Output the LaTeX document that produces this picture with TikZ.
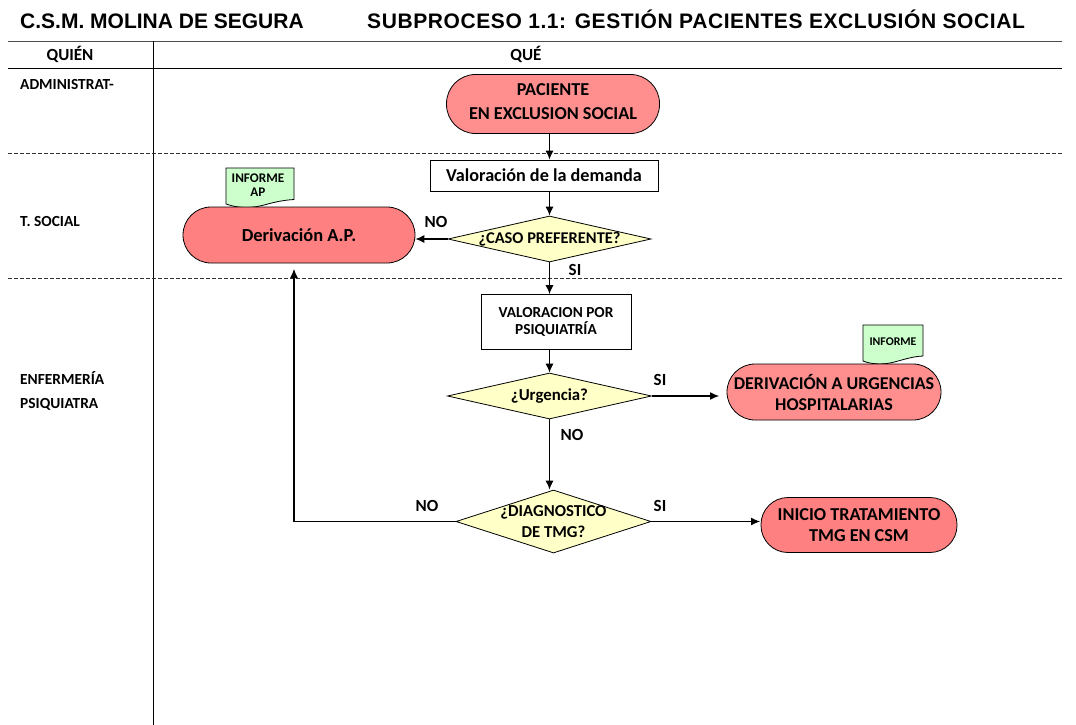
\documentclass[tikz,border=0pt]{standalone}
\usepackage{fontspec}
\setmainfont{Carlito}
\newfontfamily\titlefont{Liberation Sans}
\newfontfamily\titlefontb[LetterSpace=2.8]{Liberation Sans}
\usetikzlibrary{shapes.geometric,arrows.meta}
\definecolor{pinkfill}{HTML}{FF8F8F}
\definecolor{redfill}{HTML}{FF8080}
\definecolor{yellowfill}{HTML}{FFFFC8}
\definecolor{greenfill}{HTML}{CCFFCC}
\newcommand{\fs}[1]{\fontsize{#1}{#1}\selectfont\bfseries}
\tikzset{
  x=1pt,y=-1pt,
  pill/.style={draw=black,line width=0.8pt,rectangle,align=center,inner sep=0pt},
  procbox/.style={draw=black,line width=0.8pt,fill=white,align=center,inner sep=0pt},
  decide/.style={draw=black,line width=0.8pt,fill=yellowfill,diamond,inner xsep=-60pt,inner ysep=-12pt,aspect=1,align=center},
  lab/.style={anchor=center,font=\fs{17},inner sep=0pt},
  who/.style={anchor=west,font=\fs{15.4},inner sep=0pt},
  flow/.style={-{Latex[length=9pt,width=8pt]},line width=1.05pt,black},
  rule/.style={line width=0.8pt,black},
  sep/.style={line width=0.6pt,dash pattern=on 3.5pt off 2.5pt,black!80},
  note/.style={draw=black,line width=0.8pt,fill=greenfill}
}
\begin{document}
\begin{tikzpicture}
\useasboundingbox (0,0) rectangle (1076,725);
\fill[white] (0,0) rectangle (1076,725);
% titles
\node[anchor=base west,inner sep=0pt,font=\titlefont\fs{21}] (t1) at (20,28.5) {C.S.M. MOLINA DE SEGURA};
\node[anchor=base west,inner sep=0pt,font=\titlefontb\fs{21}] (t2) at (367,28.5) {SUBPROCESO 1.1: GESTIÓN PACIENTES EXCLUSIÓN SOCIAL};
% table rules
\draw[rule,black!70] (8,41) -- (1062,41);
\draw[rule] (8,68) -- (1062,68);
\draw[rule] (153,41) -- (153,725);
\draw[sep] (8,153) -- (1062,153);
\draw[sep] (8,278) -- (1062,278);
\node[font=\fs{17},inner sep=0pt] (quien) at (70,54) {QUIÉN};
\node[font=\fs{17},inner sep=0pt] (que) at (526,54) {QUÉ};
\node[who] (w1) at (20,85) {ADMINISTRAT-};
\node[who] (w2) at (20,222) {T. SOCIAL};
\node[who] (w3) at (20,378) {ENFERMERÍA};
\node[who] (w4) at (20,404) {PSIQUIATRA};
% notes
\draw[note] (226,168) -- (294,168) -- (294,199.5) .. controls (270,201) and (262,208) .. (245,207.5) .. controls (238,207.5) and (232,206) .. (226,204) -- cycle;
\node[font=\fs{13.2},align=center,inner sep=0pt] (n1) at (258,185) {INFORME\\[1pt]AP};
\draw[note] (863,325) -- (923,325) -- (923,356) .. controls (905,357) and (895,364) .. (880,364) .. controls (874,364) and (868,363) .. (863,361) -- cycle;
\node[font=\fs{11.8},inner sep=0pt] (n2) at (893,342) {INFORME};
% shapes
\node[pill,fill=pinkfill,minimum width=213pt,minimum height=59pt,rounded corners=29pt] (p) at (553,104) {};
\node[font=\fs{18.2},align=center,inner sep=0pt] (pt) at (553,101.5) {PACIENTE\\[6pt]EN EXCLUSION SOCIAL};
\node[procbox,minimum width=228pt,minimum height=31pt,font=\fs{18.2}] (val) at (544,175.5) {Valoración de la demanda};
\node[decide,minimum width=203pt,minimum height=46pt,font=\fs{16.4}] (caso) at (549.5,239) {¿CASO PREFERENTE?};
\node[pill,fill=redfill,minimum width=232pt,minimum height=56pt,rounded corners=28pt,font=\fs{18.4}] (ap) at (299,235) {Derivación A.P.};
\node[procbox,minimum width=150pt,minimum height=55pt,font=\fs{15.3}] (psi) at (556,322) {VALORACION POR\\[2pt]PSIQUIATRÍA};
\node[decide,minimum width=204pt,minimum height=46pt,font=\fs{16.8}] (urg) at (549.5,396) {¿Urgencia?};
\node[pill,fill=pinkfill,minimum width=214pt,minimum height=56pt,rounded corners=28pt,font=\fs{18}] (der) at (834,392) {DERIVACIÓN A URGENCIAS\\[3pt]HOSPITALARIAS};
\node[decide,minimum width=195pt,minimum height=63pt,font=\fs{16.7}] (diag) at (553.5,521.5) {¿DIAGNOSTICO\\[3.5pt]DE TMG?};
\node[pill,fill=redfill,minimum width=196pt,minimum height=55pt,rounded corners=27pt,font=\fs{18.2}] (ini) at (859,525) {INICIO TRATAMIENTO\\[3pt]TMG EN CSM};
% connectors
\coordinate (c1) at (294,521.5);
\coordinate (c2) at (294,269);
\draw[flow] (caso.north |- p.south) -- (caso.north |- val.north);
\draw[flow] (caso.north |- val.south) -- (caso.north);
\draw[flow] (caso.west) -- (ap.east |- caso.west);
\draw[flow] (caso.south) -- (caso.south |- psi.north);
\draw[flow] (caso.south |- psi.south) -- (urg.north);
\draw[flow] (urg.east) -- (719,396) coordinate (e1);
\draw[flow] (urg.south) -- (urg.south |- diag.north);
\draw[flow] (diag.east) -- (760,521.5) coordinate (e2);
\draw[line width=1.05pt] (diag.west) -- (c1);
\draw[flow] (c1) -- (c2);
% labels
\node[lab] (l1) at (436,222) {NO};
\node[lab] (l2) at (575,270) {SI};
\node[lab] (l3) at (660,380) {SI};
\node[lab] (l4) at (572,435) {NO};
\node[lab] (l5) at (427,506) {NO};
\node[lab] (l6) at (660,506) {SI};
\end{tikzpicture}
\end{document}
